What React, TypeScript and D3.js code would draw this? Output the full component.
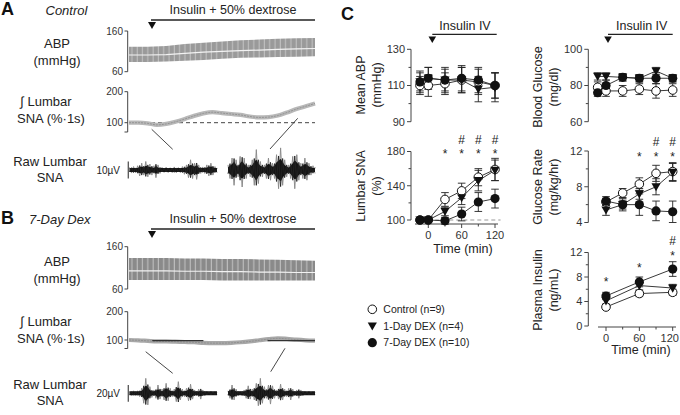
import React from 'react';
import * as d3 from 'd3';

// ---------------- DATA ----------------
// Panel C time points (min)
const timesFull = [-15, 0, 30, 60, 90, 120];
const timesRate = [0, 30, 60, 90, 120];
const timesIns = [0, 60, 120];

// Mean ABP (mmHg)
const abpCtrl = [110, 110, 111, 113, 112, 110];
const abpCtrlErr = [5, 6, 6, 7, 7, 7];
const abpDex1 = [112, 114, 113, 113, 108, 109];
const abpDex1Err = [6, 6, 7, 7, 7, 8];
const abpDex7 = [112, 114, 113, 114, 113, 110];
const abpDex7Err = [5, 6, 6, 7, 7, 7];

// Lumbar SNA (%)
const snaCtrl = [100, 100, 124, 134, 150, 159];
const snaCtrlErr = [1, 1, 8, 9, 10, 13];
const snaDex1 = [100, 100, 110, 126, 146, 158];
const snaDex1Err = [1, 1, 5, 8, 12, 12];
const snaDex7 = [100, 100, 99, 107, 121, 125];
const snaDex7Err = [1, 1, 4, 8, 11, 11];

// Blood glucose (mg/dl)
const bgCtrl = [79, 77, 77, 78, 77, 77.5];
const bgCtrlErr = [3, 3, 3, 3, 4, 3.5];
const bgDex1 = [85, 85, 84.5, 84, 88, 84];
const bgDex1Err = [2, 2, 2, 2, 2, 2];
const bgDex7 = [76, 80, 84.5, 84, 84, 84];
const bgDex7Err = [2, 3, 2, 2, 3, 2];

// Glucose rate (mg/kg/hr)
const grCtrl = [6.3, 7.3, 8.3, 9.5, 9.7];
const grCtrlErr = [0.4, 0.5, 0.7, 0.9, 1.0];
const grDex1 = [5.4, 6.0, 7.2, 8.0, 9.6];
const grDex1Err = [0.6, 0.5, 0.6, 0.9, 1.0];
const grDex7 = [6.4, 6.0, 6.0, 5.3, 5.2];
const grDex7Err = [0.5, 0.7, 1.2, 1.1, 1.2];

// Plasma insulin (ng/mL)
const insCtrl = [3.1, 5.3, 5.5];
const insCtrlErr = [0.4, 0.5, 0.5];
const insDex1 = [4.1, 6.6, 6.2];
const insDex1Err = [0.5, 0.7, 0.6];
const insDex7 = [4.9, 7.2, 9.3];
const insDex7Err = [0.6, 0.8, 1.2];

// significance markers (time, and level in data units where drawn)
const snaStars = [30, 60, 90, 120];
const snaHashes = [60, 90, 120];
const grStars = [60, 90, 120];
const grHashes = [90, 120];
const insStars = [0, 60, 120];
const insStarLevel = [7.6, 10.0, 12.0];
const insHashes = [120];
const insHashLevel = [13.9];

const legendLabels = ['Control (n=9)', '1-Day DEX (n=4)', '7-Day DEX (n=10)'];

// Panel A / B traces (recording index 0..10 across the record)
const abpTopA = [121, 121, 123, 128, 131, 134, 137, 139, 141, 142, 143];
const abpMidA = [101, 101, 102, 105, 108, 110, 112, 113, 115, 116, 117];
const abpBotA = [84, 84, 85, 87, 89, 92, 94, 95, 96, 97, 98];
const abpTopB = [133, 133, 133, 132, 132, 131, 131, 130, 129, 128, 127];
const abpMidB = [103, 103, 103, 102, 102, 101, 101, 100, 100, 99, 99];
const abpBotB = [81, 81, 81, 81, 81, 80, 80, 80, 80, 80, 80];

// Integrated lumbar SNA (% of baseline), index 0..20
const intSnaA = [100, 100, 98, 93, 96, 103, 112, 122, 130, 134, 131, 128, 125, 120, 117, 118, 123, 133, 144, 153, 162];
const intSnaB = [100, 99, 97, 95, 95, 94, 93, 92, 90, 89, 89, 90, 92, 95, 99, 103, 106, 104, 101, 99, 98];
const darkSegB = [[2.5, 8], [14.9, 20]];

// Raw lumbar SNA amplitude envelopes (µV)
const rawA1 = [1.5, 1.8, 2, 1.6, 2.5, 3.5, 4, 3, 5, 4, 3.5, 3, 2.5, 4.5, 3, 2, 1.5, 1.4, 1.6, 1.5, 1.3, 1.5, 1.8, 1.6, 1.4, 1.5, 2, 2.5, 3, 4.5, 6, 5, 4, 5.5, 3, 2, 1.8, 2, 3, 3.5, 4, 3, 2, 1.6];
const rawA2 = [3, 5, 7, 9, 6, 4, 8, 10, 7, 5, 3, 4, 6, 9, 12, 8, 5, 4, 3, 5, 7, 6, 4, 5, 9, 11, 13, 9, 6, 4, 3, 5, 8, 11, 9, 6, 4, 5, 7, 6, 4, 3, 2.5, 2];
const rawB1 = [2, 2.5, 3, 2.5, 3, 4, 6, 12, 18, 14, 8, 5, 4, 6, 10, 7, 5, 8, 12, 9, 6, 4, 5, 10, 14, 8, 5, 4, 6, 9, 11, 7, 4, 3, 5, 7, 4, 3, 2.5, 2, 2.5, 2, 2, 2];
const rawB2 = [3, 6, 10, 8, 5, 3, 2.5, 3, 4, 6, 9, 7, 5, 8, 12, 15, 18, 12, 8, 6, 10, 13, 9, 6, 4, 7, 11, 8, 5, 4, 6, 8, 5, 3, 4, 6, 4, 3, 2.5, 2, 2.5, 2, 2, 2];

// ---------------- STYLE / LAYOUT ----------------
const FONT = "'Liberation Sans', Arial, Helvetica, sans-serif";
const AX = '#444';

type Kind = 'open' | 'tri' | 'filled';

function Marker({ kind, x, y }: { kind: Kind; x: number; y: number }) {
  if (kind === 'open') return <circle cx={x} cy={y} r={4.3} fill="#fff" stroke="#111" strokeWidth={1} />;
  if (kind === 'filled') return <circle cx={x} cy={y} r={4.6} fill="#111" />;
  return <path d={`M${x - 4.6},${y - 3.6}L${x + 4.6},${y - 3.6}L${x},${y + 4.6}Z`} fill="#111" />;
}

function Series({ t, v, e, xs, ys, kind, part }: any) {
  if (part === 'line') {
    const line = d3.line<number>().x((_, i) => xs(t[i])).y((d) => ys(d));
    return <path d={line(v) || ''} fill="none" stroke="#222" strokeWidth={0.9} />;
  }
  if (part === 'err') {
    return (
      <g stroke="#222" strokeWidth={0.9}>
        {v.map((d: number, i: number) => {
          const x = xs(t[i]);
          const y1 = ys(d + e[i]);
          const y2 = ys(d - e[i]);
          return (
            <g key={i}>
              <line x1={x} x2={x} y1={y1} y2={y2} />
              <line x1={x - 3.8} x2={x + 3.8} y1={y1} y2={y1} />
              <line x1={x - 3.8} x2={x + 3.8} y1={y2} y2={y2} />
            </g>
          );
        })}
      </g>
    );
  }
  return (
    <g>
      {v.map((d: number, i: number) => (
        <Marker key={i} kind={kind} x={xs(t[i])} y={ys(d)} />
      ))}
    </g>
  );
}

function Plot({ t, groups, xs, ys }: any) {
  return (
    <g>
      {groups.map((g: any, i: number) => <Series key={'l' + i} t={t} v={g[0]} e={g[1]} xs={xs} ys={ys} part="line" />)}
      {groups.map((g: any, i: number) => <Series key={'e' + i} t={t} v={g[0]} e={g[1]} xs={xs} ys={ys} part="err" />)}
      {groups.map((g: any, i: number) => <Series key={'m' + i} t={t} v={g[0]} e={g[1]} xs={xs} ys={ys} kind={g[2]} part="mark" />)}
    </g>
  );
}

function YAxis({ x, scale, major, minor, fs = 11 }: any) {
  const [d0, d1] = scale.domain();
  return (
    <g>
      <line x1={x} x2={x} y1={scale(d0)} y2={scale(d1)} stroke={AX} strokeWidth={1} />
      {minor.map((v: number) => (
        <line key={'m' + v} x1={x - 2.5} x2={x} y1={scale(v)} y2={scale(v)} stroke={AX} />
      ))}
      {major.map((v: number) => (
        <g key={v}>
          <line x1={x - 4} x2={x} y1={scale(v)} y2={scale(v)} stroke={AX} />
          <text x={x - 6} y={scale(v)} dy="0.36em" textAnchor="end" fontSize={fs} fill="#333">{v}</text>
        </g>
      ))}
    </g>
  );
}

function XAxis({ y, xs, x1, x2, major, minor, lastShift = 0 }: any) {
  return (
    <g>
      <line x1={x1} x2={x2} y1={y} y2={y} stroke={AX} />
      {minor.map((v: number) => <line key={'m' + v} x1={xs(v)} x2={xs(v)} y1={y} y2={y + 2.5} stroke={AX} />)}
      {major.map((v: number, i: number) => (
        <g key={v}>
          <line x1={xs(v)} x2={xs(v)} y1={y} y2={y + 4} stroke={AX} />
          <text x={xs(v) + (i === major.length - 1 ? lastShift : 0)} y={y + 15} textAnchor="middle" fontSize={11} fill="#333">{v}</text>
        </g>
      ))}
    </g>
  );
}

function RotLabel({ x, y, lines }: { x: number; y: number; lines: string[] }) {
  return (
    <g>
      {lines.map((s, i) => (
        <text key={i} transform={`translate(${x + i * 16},${y}) rotate(-90)`} textAnchor="middle" dy="0.35em" fontSize={12.5} fill="#222">{s}</text>
      ))}
    </g>
  );
}

// '*' centred at yStar, '#' centred at yHash (pixel rows)
function Stars({ xs, stars, hashes, yStar, yHash }: any) {
  return (
    <g fontSize={12} fill="#222" textAnchor="middle">
      {stars.map((t: number, i: number) => <text key={'s' + i} x={xs(t)} y={(Array.isArray(yStar) ? yStar[i] : yStar) + 7}>*</text>)}
      {hashes.map((t: number, i: number) => <text key={'h' + i} x={xs(t)} y={(Array.isArray(yHash) ? yHash[i] : yHash) + 4}>#</text>)}
    </g>
  );
}

function InsulinArrow({ cx, x1, x2, label }: any) {
  return (
    <g>
      <text x={cx} y={30} textAnchor="middle" fontSize={12.5} fill="#222">{label}</text>
      <line x1={x1} x2={x2} y1={34.3} y2={34.3} stroke="#222" strokeWidth={1.3} />
      <path d={`M${x1 - 3.8},36.5L${x1 + 3.8},36.5L${x1},43Z`} fill="#111" />
    </g>
  );
}

function AbpBand({ top, mid, bot, ys, id, fill }: any) {
  const xi = d3.scaleLinear().domain([0, top.length - 1]).range([129, 315]);
  const area = d3.area<number>().x((_, i) => xi(i)).y0((_, i) => ys(bot[i])).y1((d) => ys(d));
  const line = d3.line<number>().x((_, i) => xi(i)).y((d) => ys(d));
  return (
    <g>
      <defs>
        <pattern id={id} patternUnits="userSpaceOnUse" width={5.3} height={10}>
          <rect width={5.3} height={10} fill={fill} />
          <rect x={4.2} width={1} height={10} fill="#c4c4c4" />
        </pattern>
      </defs>
      <path d={area(top) || ''} fill={`url(#${id})`} />
      <path d={line(mid) || ''} fill="none" stroke="#f2f2f2" strokeWidth={1.2} />
    </g>
  );
}

function IntSna({ vals, ys, color }: any) {
  const xi = d3.scaleLinear().domain([0, vals.length - 1]).range([129, 315]);
  const line = d3.line<number>().x((_, i) => xi(i)).y((d) => ys(d)).curve(d3.curveMonotoneX);
  return (
    <g>
      <path d={line(vals) || ''} fill="none" stroke={color} strokeWidth={4.2} />
      <path d={line(vals) || ''} fill="none" stroke="#8a8a8a" strokeWidth={0.8} strokeDasharray="2,1" />
    </g>
  );
}

function Raw({ amps, x0, x1, cy, k }: any) {
  const xi = d3.scaleLinear().domain([0, amps.length - 1]).range([x0, x1]);
  const zig = d3.line<number>().x((_, i) => xi(i)).y((a, i) => cy + (i % 2 === 0 ? -1 : 1) * a * k);
  const core = d3
    .area<number>()
    .x((_, i) => xi(i))
    .y0((a) => cy + Math.max(2, a * k * 0.5))
    .y1((a) => cy - Math.max(2, a * k * 0.5))
    .curve(d3.curveMonotoneX);
  const coreZig = d3.line<number>().x((_, i) => xi(i)).y((a, i) => cy + (i % 2 === 0 ? 1 : -1) * a * k * 0.75);
  return (
    <g>
      <path d={zig(amps) || ''} fill="none" stroke="#8c8c8c" strokeWidth={1} />
      <path d={core(amps) || ''} fill="#151515" />
      <path d={coreZig(amps) || ''} fill="none" stroke="#222" strokeWidth={0.9} />
    </g>
  );
}

function TracePanel({ letter, title, y0, abp, sna, raw, bar }: any) {
  const abpY = d3.scaleLinear().domain([60, 160]).range(abp.range);
  const snaY = d3.scaleLinear().domain([100, 200]).range(sna.range);
  const xi = d3.scaleLinear().domain([0, 20]).range([129, 315]);
  return (
    <g>
      <text x={1} y={y0 + 15} fontSize={18} fontWeight="bold" fill="#111">{letter}</text>
      <text x={title.x} y={y0 + 15} fontSize={13} fontStyle="italic" fill="#222">{title.text}</text>
      <text x={233} y={y0 + 14} textAnchor="middle" fontSize={12.5} fill="#222">Insulin + 50% dextrose</text>
      <line x1={151} x2={315} y1={y0 + 20} y2={y0 + 20} stroke="#222" strokeWidth={1.3} />
      <path d={`M${148},${y0 + 22}L${156},${y0 + 22}L${152},${y0 + 29}Z`} fill="#111" />

      {/* ABP */}
      <text x={57} y={abp.labelY} textAnchor="middle" fontSize={13} fill="#222">ABP</text>
      <text x={57} y={abp.labelY + 17} textAnchor="middle" fontSize={13} fill="#222">(mmHg)</text>
      <line x1={127.7} x2={127.7} y1={abpY(160)} y2={abpY(60)} stroke={AX} />
      {[160, 60].map((v) => (
        <g key={v}>
          <line x1={124.5} x2={127.7} y1={abpY(v)} y2={abpY(v)} stroke={AX} />
          <text x={123} y={abpY(v)} dy="0.36em" textAnchor="end" fontSize={10} fill="#333">{v}</text>
        </g>
      ))}
      <AbpBand top={abp.top} mid={abp.mid} bot={abp.bot} ys={abpY} id={'pat' + letter} fill={abp.fill} />

      {/* Integrated SNA */}
      <text x={46} y={sna.labelY} textAnchor="middle" fontSize={13} fill="#222">∫ Lumbar</text>
      <text x={51} y={sna.labelY + 17} textAnchor="middle" fontSize={13} fill="#222">SNA (%·1s)</text>
      <line x1={127.7} x2={127.7} y1={snaY(200)} y2={snaY(70)} stroke={AX} />
      {[200, 100].map((v) => (
        <g key={v}>
          <line x1={124.5} x2={127.7} y1={snaY(v)} y2={snaY(v)} stroke={AX} />
          <text x={123} y={snaY(v)} dy="0.36em" textAnchor="end" fontSize={10} fill="#333">{v}</text>
        </g>
      ))}
      <line x1={124.5} x2={127.7} y1={snaY(70)} y2={snaY(70)} stroke={AX} />
      {sna.dashed && <line x1={130} x2={315} y1={snaY(100)} y2={snaY(100)} stroke="#444" strokeDasharray="4,3" />}
      <IntSna vals={sna.vals} ys={snaY} color={sna.color} />
      {sna.dark && sna.dark.map((s: number[], i: number) => (
        <line key={i} x1={xi(s[0])} x2={xi(s[1])} y1={snaY(98)} y2={snaY(98)} stroke="#333" strokeWidth={1.2} />
      ))}
      {raw.conn.map((c: number[], i: number) => (
        <line key={i} x1={c[0]} y1={c[1]} x2={c[2]} y2={c[3]} stroke="#333" strokeWidth={0.9} />
      ))}

      {/* Raw SNA */}
      <text x={50} y={raw.cy - 4} textAnchor="middle" fontSize={13} fill="#222">Raw Lumbar</text>
      <text x={50} y={raw.cy + 12} textAnchor="middle" fontSize={13} fill="#222">SNA</text>
      <text x={120} y={raw.cy} dy="0.35em" textAnchor="end" fontSize={10} fill="#222">{bar.label}</text>
      <line x1={128.3} x2={128.3} y1={raw.cy - bar.h / 2} y2={raw.cy + bar.h / 2} stroke="#555" strokeWidth={1.3} />
      <Raw amps={raw.a1} x0={129.5} x1={217} cy={raw.cy} k={raw.k} />
      <Raw amps={raw.a2} x0={228} x1={315} cy={raw.cy} k={raw.k} />
    </g>
  );
}

export default function App() {
  const xL = d3.scaleLinear().domain([0, 120]).range([428.3, 495]);
  const xR = d3.scaleLinear().domain([0, 120]).range([606, 672.7]);
  const yAbp = d3.scaleLinear().domain([90, 130]).range([121.7, 49.3]);
  const ySna = d3.scaleLinear().domain([100, 180]).range([220, 151.5]);
  const yBg = d3.scaleLinear().domain([60, 100]).range([121.7, 49.3]);
  const yGr = d3.scaleLinear().domain([4, 12]).range([222.5, 151]);
  const yIns = d3.scaleLinear().domain([0, 12]).range([326, 252.5]);
  const kinds: Kind[] = ['open', 'tri', 'filled'];

  return (
    <svg width={680} height={415} style={{ position: 'absolute', left: 0, top: 0, background: '#fff' }} fontFamily={FONT}>
      <rect width={680} height={415} fill="#fff" />
      <TracePanel
        letter="A"
        title={{ text: 'Control', x: 45.5 }}
        y0={0}
        abp={{ range: [71.7, 31], top: abpTopA, mid: abpMidA, bot: abpBotA, labelY: 48, fill: '#9a9a9a' }}
        sna={{ range: [122.7, 91.7], vals: intSnaA, labelY: 106, dashed: true, color: '#b8b8b8' }}
        raw={{ a1: rawA1, a2: rawA2, cy: 170, k: 1.7, conn: [[151.7, 129.3, 172.7, 149.3], [297.7, 118.3, 270, 149]] }}
        bar={{ label: '10µV', h: 17 }}
      />
      <TracePanel
        letter="B"
        title={{ text: '7-Day Dex', x: 29 }}
        y0={209}
        abp={{ range: [289, 246.7], top: abpTopB, mid: abpMidB, bot: abpBotB, labelY: 266, fill: '#8a8a8a' }}
        sna={{ range: [340, 311.7], vals: intSnaB, labelY: 326, dashed: false, color: '#a8a8a8', dark: darkSegB }}
        raw={{ a1: rawB1, a2: rawB2, cy: 393.3, k: 0.83, conn: [[145.7, 351.7, 172.7, 373.3], [285, 348.3, 270.7, 371.7]] }}
        bar={{ label: '20µV', h: 16.7 }}
      />

      {/* Panel C */}
      <text x={341} y={20} fontSize={18} fontWeight="bold" fill="#111">C</text>
      <InsulinArrow cx={465} x1={432.3} x2={496.7} label="Insulin IV" />
      <InsulinArrow cx={641.7} x1={608} x2={672.7} label="Insulin IV" />

      {/* Mean ABP */}
      <RotLabel x={361} y={85} lines={['Mean ABP', '(mmHg)']} />
      <YAxis x={411} scale={yAbp} major={[90, 110, 130]} minor={[100, 120]} />
      <Plot t={timesFull} xs={xL} ys={yAbp} groups={[[abpCtrl, abpCtrlErr, kinds[0]], [abpDex1, abpDex1Err, kinds[1]], [abpDex7, abpDex7Err, kinds[2]]]} />

      {/* Lumbar SNA */}
      <RotLabel x={361} y={186} lines={['Lumbar SNA', '(%)']} />
      <YAxis x={411} scale={ySna} major={[100, 140, 180]} minor={[120, 160]} />
      <line x1={xL(0)} x2={xL(130)} y1={ySna(100)} y2={ySna(100)} stroke="#999" strokeDasharray="4,3" />
      <XAxis y={224} xs={xL} x1={415} x2={498} major={[0, 60, 120]} minor={[30, 90]} />
      <text x={463} y={253} textAnchor="middle" fontSize={12.5} fill="#222">Time (min)</text>
      <Plot t={timesFull} xs={xL} ys={ySna} groups={[[snaCtrl, snaCtrlErr, kinds[0]], [snaDex1, snaDex1Err, kinds[1]], [snaDex7, snaDex7Err, kinds[2]]]} />
      <Stars xs={xL} stars={snaStars} hashes={snaHashes} yStar={150.7} yHash={139.5} />

      {/* Blood glucose */}
      <RotLabel x={538} y={87} lines={['Blood Glucose', '(mg/dl)']} />
      <YAxis x={588.3} scale={yBg} major={[60, 80, 100]} minor={[70, 90]} />
      <Plot t={timesFull} xs={xR} ys={yBg} groups={[[bgCtrl, bgCtrlErr, kinds[0]], [bgDex1, bgDex1Err, kinds[1]], [bgDex7, bgDex7Err, kinds[2]]]} />

      {/* Glucose rate */}
      <RotLabel x={538} y={187} lines={['Glucose Rate', '(mg/kg/hr)']} />
      <YAxis x={588.3} scale={yGr} major={[4, 8, 12]} minor={[6, 10]} />
      <Plot t={timesRate} xs={xR} ys={yGr} groups={[[grCtrl, grCtrlErr, kinds[0]], [grDex1, grDex1Err, kinds[1]], [grDex7, grDex7Err, kinds[2]]]} />
      <Stars xs={xR} stars={grStars} hashes={grHashes} yStar={154} yHash={141.7} />

      {/* Plasma insulin */}
      <RotLabel x={538} y={290} lines={['Plasma Insulin', '(ng/mL)']} />
      <YAxis x={588.3} scale={yIns} major={[0, 4, 8, 12]} minor={[2, 6, 10]} />
      <XAxis y={327} xs={xR} x1={598} x2={676} major={[0, 60, 120]} minor={[30, 90]} lastShift={-3} />
      <text x={641} y={354} textAnchor="middle" fontSize={12.5} fill="#222">Time (min)</text>
      <Plot t={timesIns} xs={xR} ys={yIns} groups={[[insCtrl, insCtrlErr, kinds[0]], [insDex1, insDex1Err, kinds[1]], [insDex7, insDex7Err, kinds[2]]]} />
      <Stars xs={xR} stars={insStars} hashes={insHashes} yStar={insStarLevel.map((v) => yIns(v))} yHash={insHashLevel.map((v) => yIns(v))} />

      {/* Legend */}
      {legendLabels.map((s, i) => (
        <g key={s}>
          <Marker kind={kinds[i]} x={372.3} y={309.3 + i * 16.7} />
          <text x={383.3} y={309.3 + i * 16.7} dy="0.36em" fontSize={10.5} fill="#222">{s}</text>
        </g>
      ))}
    </svg>
  );
}
